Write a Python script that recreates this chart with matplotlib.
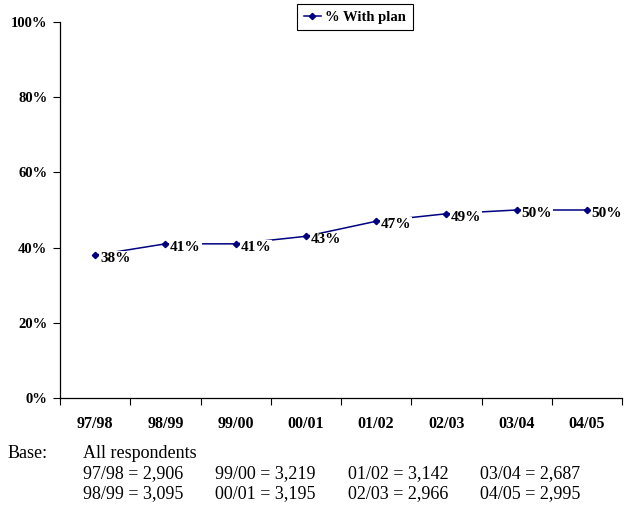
import matplotlib
matplotlib.use("Agg")
import matplotlib.pyplot as plt

# survey years and share of respondents with a plan
years = ["97/98", "98/99", "99/00", "00/01", "01/02", "02/03", "03/04", "04/05"]
with_plan = [38, 41, 41, 43, 47, 49, 50, 50]
bases = ["2,906", "3,095", "3,219", "3,195", "3,142", "2,966", "2,687", "2,995"]

serif = ["Liberation Serif", "DejaVu Serif"]
navy = "#000080"

fig = plt.figure(figsize=(6.24, 5.05), dpi=100)
ax = fig.add_axes([60 / 624, 1 - 398 / 505, 562 / 624, 376 / 505])

x = list(range(len(years)))
line, = ax.plot(x, with_plan, color=navy, lw=1.1, marker="D", ms=3.2,
                mfc=navy, mec=navy, label="% With plan", zorder=2)

for xi, v in zip(x, with_plan):
    ax.annotate(f"{v}%", (xi, v), xytext=(3.5, -2.5), textcoords="offset points",
                ha="left", va="center", fontsize=11, fontweight="bold",
                family=serif, zorder=3,
                bbox=dict(boxstyle="square,pad=0.05", fc="white", ec="none"))

ax.set_xlim(-0.5, len(years) - 0.5)
ax.set_ylim(0, 100)
ax.set_yticks(range(0, 101, 20))
ax.set_yticklabels([f"{t}%" for t in range(0, 101, 20)],
                   fontsize=10.5, fontweight="bold", family=serif)
ax.set_xticks(x)
ax.set_xticklabels(years, fontsize=11.5, fontweight="bold", family=serif)
ax.set_xticks([i - 0.5 for i in range(len(years) + 1)], minor=True)
ax.tick_params(axis="x", which="major", length=0, pad=13)
ax.tick_params(axis="x", which="minor", length=5, direction="out", width=0.8)
ax.tick_params(axis="y", length=5, direction="out", width=0.8, pad=4)

for side in ("top", "right"):
    ax.spines[side].set_visible(False)
for side in ("left", "bottom"):
    ax.spines[side].set_linewidth(0.9)

leg = fig.legend(handles=[line], loc="upper left",
                 bbox_to_anchor=(297 / 624, 1 - 4 / 505),
                 prop=dict(family=serif, weight="bold", size=10.5),
                 fancybox=False, edgecolor="black", framealpha=1,
                 handlelength=1.2, handletextpad=0.3, borderpad=0.45,
                 borderaxespad=0)
leg.get_frame().set_linewidth(0.8)

# base sizes below the chart
fs = 13
fig.text(8 / 624, 1 - 453 / 505, "Base:", fontsize=fs, family=serif, va="center")
fig.text(83 / 624, 1 - 453 / 505, "All respondents", fontsize=fs, family=serif, va="center")
cols = [83, 215, 348, 480]
rows = [474, 494]
for i, (yr, b) in enumerate(zip(years, bases)):
    col, row = divmod(i, 2)
    fig.text(cols[col] / 624, 1 - rows[row] / 505, f"{yr} = {b}",
             fontsize=fs, family=serif, va="center")

fig.savefig("out.png", dpi=100)
